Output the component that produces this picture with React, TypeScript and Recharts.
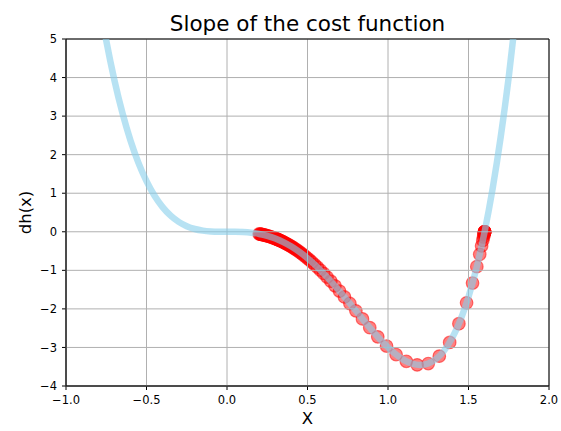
import React from "react";
import {
  ComposedChart,
  Line,
  Scatter,
  XAxis,
  YAxis,
  CartesianGrid,
  ReferenceArea,
} from "recharts";

// slope curve dh(x)
const CURVE_X = [
  -0.8, -0.75, -0.7, -0.65, -0.6, -0.55, -0.5, -0.45, -0.4, -0.35, -0.3, -0.25, -0.2, -0.15, -0.1, -0.05, 0,
  0.05, 0.1, 0.15, 0.2, 0.25, 0.3, 0.35, 0.4, 0.45, 0.5, 0.55, 0.6, 0.65, 0.7, 0.75, 0.8, 0.85, 0.9, 0.95, 1.0,
  1.05, 1.1, 1.15, 1.2, 1.25, 1.3, 1.35, 1.4, 1.45, 1.5, 1.55, 1.6, 1.65, 1.7, 1.75, 1.8, 1.85,
];
const CURVE_Y = [
  6.144, 4.957, 3.9445, 3.0895, 2.376, 1.7885, 1.3125, 0.934, 0.64, 0.418, 0.2565, 0.1445, 0.072, 0.0295, 0.0085, 0.001, 0,
  -0.001, -0.0075, -0.0245, -0.056, -0.1055, -0.1755, -0.268, -0.384, -0.524, -0.6875, -0.8735, -1.08, -1.3045, -1.5435,
  -1.793, -2.048, -2.303, -2.5515, -2.7865, -3,
  -3.1835, -3.3275, -3.422, -3.456, -3.418, -3.2955, -3.0755, -2.744, -2.2865, -1.6875, -0.931, 0, 1.123, 2.4565, 4.0195,
  5.832, 7.9145,
];

// gradient descent steps (x, slope)
const GD_X = [
  0.2, 0.204, 0.208, 0.212, 0.216, 0.22, 0.225, 0.23, 0.235, 0.24, 0.245, 0.25, 0.256, 0.262, 0.268, 0.274, 0.28, 0.287,
  0.293, 0.2993, 0.3028, 0.3064, 0.3101, 0.314, 0.318, 0.3221, 0.3264, 0.3309, 0.3355, 0.3403, 0.3453, 0.3505, 0.3559,
  0.3615, 0.3674, 0.3735, 0.3799, 0.3866, 0.3935, 0.4008, 0.4085, 0.4166, 0.4251, 0.4341, 0.4436, 0.4537, 0.4643,
  0.4756, 0.4875, 0.5, 0.5138, 0.5285, 0.5443, 0.5613, 0.5797, 0.6, 0.6216, 0.6451, 0.6707, 0.6988, 0.7295, 0.7633,
  0.8005, 0.8415, 0.8867, 0.9365, 0.991, 1.0502, 1.1139, 1.1811, 1.2501, 1.3185, 1.383, 1.4404, 1.4881, 1.525, 1.5516,
  1.5697, 1.5814, 1.5888, 1.5933, 1.596, 1.5976, 1.5986, 1.5992, 1.5995, 1.5997, 1.5998, 1.5999, 1.6, 1.6, 1.6, 1.6,
];
const GD_Y = [
  -0.056, -0.0593, -0.0626, -0.0661, -0.0697, -0.0735, -0.0783, -0.0833, -0.0886, -0.094, -0.0996, -0.1055, -0.1127,
  -0.1203, -0.1282, -0.1364, -0.1449, -0.1552, -0.1644, -0.1744, -0.1801, -0.1861, -0.1923, -0.1991, -0.2061, -0.2135,
  -0.2214, -0.2299, -0.2388, -0.2482, -0.2583, -0.269, -0.2804, -0.2926, -0.3056, -0.3195, -0.3345, -0.3506, -0.3676,
  -0.3861, -0.4061, -0.4278, -0.4513, -0.4769, -0.5047, -0.5353, -0.5684, -0.6048, -0.6445, -0.6875, -0.7367, -0.7909,
  -0.8512, -0.9184, -0.9938, -1.08, -1.175, -1.2818, -1.4019, -1.5376, -1.6897, -1.8605, -2.0506, -2.2599, -2.4864,
  -2.7248, -2.9635, -3.1842, -3.3592, -3.4509, -3.4178, -3.2262, -2.8701, -2.3848, -1.8437, -1.33, -0.904, -0.586,
  -0.3678, -0.2246, -0.1355, -0.0813, -0.0489, -0.0286, -0.0164, -0.0102, -0.0061, -0.0041, -0.002, 0, 0, 0, 0,
];

const X_TICKS = [-1, -0.5, 0, 0.5, 1, 1.5, 2];
const Y_TICKS = [-4, -3, -2, -1, 0, 1, 2, 3, 4, 5];

const curveData = CURVE_X.map((x, i) => ({ x, y: CURVE_Y[i] }));
const gdData = GD_X.map((x, i) => ({ x, y: GD_Y[i] }));

const minus = (s: string) => s.replace("-", "\u2212");
const FONT = "'DejaVu Sans', sans-serif";
const W = 561;
const H = 431;
const abs: React.CSSProperties = { position: "absolute", left: 0, top: 0 };

const Dot = (p: any) => (
  <circle
    cx={p.cx}
    cy={p.cy}
    r={6.3}
    fill="red"
    fillOpacity={0.5}
    stroke="red"
    strokeOpacity={0.5}
    strokeWidth={1.2}
  />
);

export default function App() {
  return (
    <div style={{ ...abs, width: W, height: H, background: "#fff", fontFamily: FONT }}>
      <svg width={W} height={40} style={abs}>
        <text x={307.5} y={31} textAnchor="middle" fontSize={21.5} fill="#000" fontFamily={FONT}>
          Slope of the cost function
        </text>
      </svg>

      {/* bottom layer: axes + descent points */}
      <ComposedChart width={W} height={H} margin={{ top: 39, right: 12, bottom: 0, left: 0 }} style={abs}>
        <XAxis
          type="number"
          dataKey="x"
          domain={[-1, 2]}
          ticks={X_TICKS}
          allowDataOverflow
          height={45}
          tickSize={4}
          tickMargin={6}
          tick={{ fill: "#000", fontSize: 11.5 }}
          tickLine={{ stroke: "#000" }}
          axisLine={{ stroke: "#000" }}
          tickFormatter={(v: number) => minus(v.toFixed(1))}
          label={{ value: "X", position: "insideBottom", offset: 7, fontSize: 16.5, fill: "#000" }}
        />
        <YAxis
          type="number"
          dataKey="y"
          domain={[-4, 5]}
          ticks={Y_TICKS}
          allowDataOverflow
          width={66}
          tickSize={4}
          tickMargin={5}
          tick={{ fill: "#000", fontSize: 11.5 }}
          tickLine={{ stroke: "#000" }}
          axisLine={{ stroke: "#000" }}
          tickFormatter={(v: number) => minus(String(v))}
          label={{
            value: "dh(x)",
            angle: -90,
            position: "insideLeft",
            offset: 25,
            fontSize: 16.5,
            fill: "#000",
            style: { textAnchor: "middle" },
          }}
        />
        <Scatter data={gdData} dataKey="y" shape={Dot} isAnimationActive={false} />
      </ComposedChart>

      {/* top layer: grid + slope curve over the points, like matplotlib's z-order */}
      <ComposedChart width={W} height={H} margin={{ top: 39, right: 12, bottom: 45, left: 66 }} style={abs}>
        <XAxis hide type="number" dataKey="x" domain={[-1, 2]} ticks={X_TICKS} allowDataOverflow />
        <YAxis hide type="number" dataKey="y" domain={[-4, 5]} ticks={Y_TICKS} allowDataOverflow />
        <CartesianGrid stroke="#b0b0b0" strokeWidth={1} />
        <Line
          data={curveData}
          dataKey="y"
          type="monotone"
          stroke="skyblue"
          strokeOpacity={0.6}
          strokeWidth={6.5}
          dot={false}
          activeDot={false}
          isAnimationActive={false}
        />
        <ReferenceArea x1={-1} x2={2} y1={-4} y2={5} fill="none" stroke="#000" strokeWidth={1} />
      </ComposedChart>
    </div>
  );
}
